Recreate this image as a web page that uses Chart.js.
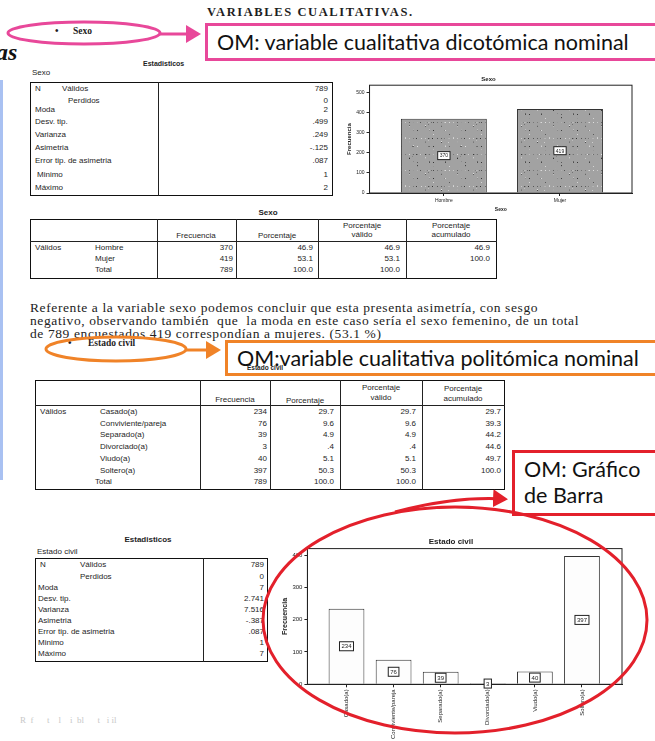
<!DOCTYPE html>
<html>
<head>
<meta charset="utf-8">
<script src="https://cdn.jsdelivr.net/npm/chart.js@4.4.0/dist/chart.umd.min.js"></script>
<style>
  body { margin:0; width:655px; height:741px; overflow:hidden; background:#fff; position:relative;
         font-family:"Liberation Sans", Arial, sans-serif; color:#1e1e1e; }
  .a { position:absolute; white-space:pre; line-height:1; }
  .tab { position:absolute; border:1.6px solid #111; box-sizing:border-box; }
  .vl { position:absolute; width:0; border-left:1.4px solid #222; }
  .hl { position:absolute; height:0; border-top:1.2px solid #222; }
  .om { position:absolute; box-sizing:border-box; font-family:Lato, "Open Sans", sans-serif; font-size:21.5px; color:#111; padding-left:9px; line-height:1.22; }
  .box { position:absolute; }
  svg { position:absolute; left:0; top:0; }
</style>
</head>
<body>
<div class="box" style="left:345px;top:74px;width:300px;height:140px"><canvas id="sexoChart" width="300" height="140"></canvas></div>
<div class="box" style="left:280px;top:537px;width:350px;height:204px"><canvas id="estadoChart" width="350" height="204"></canvas></div>
<script>
// datos - sexo
const sexoCategorias = ['Hombre', 'Mujer'];
const sexoFrecuencia = [370, 419];
const sexoPorcentaje = ['46.9', '53.1', '100.0'];
const sexoValido = ['46.9', '53.1', '100.0'];
const sexoAcumulado = ['46.9', '100.0', ''];
const sexoStatNombres = ['Válidos', 'Perdidos', 'Moda', 'Desv. tip.', 'Varianza', 'Asimetria', 'Error tip. de asimetria', 'Minimo', 'Máximo'];
const sexoStatValores = ['789', '0', '2', '.499', '.249', '-.125', '.087', '1', '2'];
const sexoTicks = [0, 100, 200, 300, 400, 500];

// datos - estado civil
const estadoCategorias = ['Casado(a)', 'Conviviente/pareja', 'Separado(a)', 'Divorciado(a)', 'Viudo(a)', 'Soltero(a)'];
const estadoFrecuencia = [234, 76, 39, 3, 40, 397];
const estadoPorcentaje = ['29.7', '9.6', '4.9', '.4', '5.1', '50.3', '100.0'];
const estadoValido = ['29.7', '9.6', '4.9', '.4', '5.1', '50.3', '100.0'];
const estadoAcumulado = ['29.7', '39.3', '44.2', '44.6', '49.7', '100.0', ''];
const estadoStatNombres = ['Válidos', 'Perdidos', 'Moda', 'Desv. tip.', 'Varianza', 'Asimetria', 'Error tip. de asimetria', 'Minimo', 'Máximo'];
const estadoStatValores = ['789', '0', '7', '2.741', '7.516', '-.387', '.087', '1', '7'];
const estadoTicks = [0, 100, 200, 300, 400];

// ---- helpers para texto de la pagina
function put(x, y, txt, css) {
  const d = document.createElement('div');
  d.className = 'a';
  d.style.left = x + 'px';
  d.style.top = y + 'px';
  d.textContent = txt;
  Object.assign(d.style, css || {});
  document.body.appendChild(d);
  return d;
}
function putR(xr, y, txt, css) {
  const d = put(0, y, txt, css);
  d.style.left = '';
  d.style.right = (655 - xr) + 'px';
  return d;
}
function putC(xc, y, txt, css) {
  const d = put(xc, y, txt, css);
  d.style.transform = 'translateX(-50%)';
  d.style.textAlign = 'center';
  return d;
}
function el(cls, x, y, w, h) {
  const d = document.createElement('div');
  d.className = cls;
  d.style.left = x + 'px'; d.style.top = y + 'px';
  if (w != null) d.style.width = w + 'px';
  if (h != null) d.style.height = h + 'px';
  document.body.appendChild(d);
  return d;
}

const serif = { fontFamily: '"Liberation Serif", "Times New Roman", serif' };
const small = { fontSize: '8px' };

// cabecera
put(207, 6, 'VARIABLES CUALITATIVAS.', Object.assign({ fontSize: '12.5px', fontWeight: 'bold', letterSpacing: '1.6px' }, serif));
put(-4, 40, 'as', Object.assign({ fontSize: '24px', fontWeight: 'bold', fontStyle: 'italic', color: '#111' }, serif));
put(55, 26, '•', { fontSize: '10px' });
put(73, 27, 'Sexo', Object.assign({ fontSize: '9.5px', fontWeight: 'bold' }, serif));
el('', 0, 80, 3, 400).style.cssText += 'position:absolute;background:#a9c1f2;';

// estadisticos sexo
put(143, 60, 'Estadisticos', { fontSize: '7px', fontWeight: 'bold' });
put(32, 69, 'Sexo', small);
el('tab', 30, 82, 303, 114);
el('vl', 158, 82, null, 114);
const sexoStatY = [85, 97, 106, 118, 131, 144, 157, 171, 184];
sexoStatNombres.forEach((n, i) => {
  const x = i === 0 ? 62 : i === 1 ? 68 : (i === 7 ? 37 : 35);
  put(x, sexoStatY[i], n, small);
  putR(328, sexoStatY[i], sexoStatValores[i], small);
});
put(35, sexoStatY[0], 'N', small);

// tabla de frecuencias sexo
putC(268, 209, 'Sexo', { fontSize: '8px', fontWeight: 'bold' });
el('tab', 30, 219, 467, 60);
[157, 236, 318, 406].forEach(x => el('vl', x, 219, null, 60));
el('hl', 30, 241, 467);
putC(196, 232, 'Frecuencia', small);
putC(277, 232, 'Porcentaje', small);
putC(362, 222, 'Porcentaje', small); putC(362, 231, 'válido', small);
putC(451, 222, 'Porcentaje', small); putC(451, 231, 'acumulado', small);
put(35, 244, 'Válidos', small);
const sexoFilas = sexoCategorias.concat(['Total']);
const sexoTotal = sexoFrecuencia.concat([sexoFrecuencia[0] + sexoFrecuencia[1]]);
[244, 255, 266].forEach((y, i) => {
  put(95, y, sexoFilas[i], small);
  putR(233, y, String(sexoTotal[i]), small);
  putR(313, y, sexoPorcentaje[i], small);
  putR(400, y, sexoValido[i], small);
  putR(490, y, sexoAcumulado[i], small);
});

// parrafo
const pf = Object.assign({ fontSize: '13.5px', letterSpacing: '0.6px', color: '#222' }, serif);
put(30, 301, 'Referente a la variable sexo podemos concluir que esta presenta asimetría, con sesgo', pf);
put(30, 314, 'negativo, observando también  que  la moda en este caso sería el sexo femenino, de un total', pf);
put(30, 327, 'de 789 encuestados 419 correspondían a mujeres. (53.1 %)', pf);

// estado civil
put(68, 338, '•', { fontSize: '10px' });
put(88, 339, 'Estado civil', Object.assign({ fontSize: '9.5px', fontWeight: 'bold' }, serif));

el('tab', 35, 380, 470, 110);
[200, 270, 340, 422].forEach(x => el('vl', x, 380, null, 110));
el('hl', 35, 405, 470);
putC(235, 396, 'Frecuencia', small);
putC(305, 397, 'Porcentaje', small);
putC(381, 384, 'Porcentaje', small); putC(381, 394, 'válido', small);
putC(463, 385, 'Porcentaje', small); putC(463, 395, 'acumulado', small);
put(40, 408, 'Válidos', small);
const estadoFilas = estadoCategorias.concat(['Total']);
const estadoTotal = estadoFrecuencia.concat([estadoFrecuencia.reduce((a, b) => a + b, 0)]);
estadoFilas.forEach((n, i) => {
  const y = 408 + i * 11.7;
  put(i === 6 ? 95 : 100, y, n, small);
  putR(267, y, String(estadoTotal[i]), small);
  putR(334, y, estadoPorcentaje[i], small);
  putR(416, y, estadoValido[i], small);
  putR(501, y, estadoAcumulado[i], small);
});

// estadisticos estado civil
putC(148, 536, 'Estadisticos', { fontSize: '8px', fontWeight: 'bold' });
put(37, 548, 'Estado civil', small);
el('tab', 35, 558, 233, 104);
el('vl', 203, 558, null, 104);
const estadoStatY = [561, 573, 584, 595, 606, 617, 628, 639, 650];
estadoStatNombres.forEach((n, i) => {
  const x = i === 0 ? 80 : i === 1 ? 80 : 38;
  put(x, estadoStatY[i], n, small);
  putR(264, estadoStatY[i], estadoStatValores[i], small);
});
put(40, estadoStatY[0], 'N', small);

put(20, 716, 'R  f      t    l    i  bl      t   i il', Object.assign({ fontSize: '9px', color: '#c8c8c8' }, serif));

// ---- textura de las barras de sexo (patron fijo)
function speckle() {
  const c = document.createElement('canvas');
  c.width = 48; c.height = 48;
  const g = c.getContext('2d');
  g.fillStyle = '#a2a2a2';
  g.fillRect(0, 0, 48, 48);
  let s = 7;
  for (let i = 0; i < 1800; i++) {
    s = (s * 1103515245 + 12345) & 0x7fffffff;
    const px = (s >> 4) % 48;
    s = (s * 1103515245 + 12345) & 0x7fffffff;
    const py = (s >> 4) % 48;
    s = (s * 1103515245 + 12345) & 0x7fffffff;
    const sh = 50 + ((s >> 4) % 180);
    g.fillStyle = 'rgb(' + sh + ',' + sh + ',' + sh + ')';
    g.fillRect(px, py, 1, 1);
  }
  return g.createPattern(c, 'repeat');
}

// marco del area y etiquetas con recuadro
const marco = {
  id: 'marco',
  afterDatasetsDraw(chart, args, opts) {
    const { ctx, chartArea: a } = chart;
    ctx.save();
    ctx.strokeStyle = '#222';
    ctx.lineWidth = 1;
    ctx.strokeRect(a.left, a.top, a.right - a.left, a.bottom - a.top);
    ctx.font = opts.size + 'px "Liberation Sans", Arial, sans-serif';
    ctx.textAlign = 'center';
    ctx.textBaseline = 'middle';
    chart.getDatasetMeta(0).data.forEach((bar, i) => {
      const v = chart.data.datasets[0].data[i].y;
      const cy = (bar.y + bar.base) / 2;
      const t = String(v);
      const w = ctx.measureText(t).width + 4;
      const h = opts.size + 3;
      ctx.fillStyle = '#fff';
      ctx.fillRect(bar.x - w / 2, cy - h / 2, w, h);
      ctx.strokeRect(bar.x - w / 2, cy - h / 2, w, h);
      ctx.fillStyle = '#222';
      ctx.fillText(t, bar.x, cy + 0.5);
    });
    ctx.restore();
  }
};

function ejeX(categorias, min, max, fontSize, rot, titulo) {
  return {
    type: 'linear', min: min, max: max, offset: false,
    afterBuildTicks: s => { s.ticks = categorias.map((c, i) => ({ value: i })); },
    ticks: { autoSkip: false, maxRotation: rot, minRotation: rot, color: '#222', padding: 2,
             font: { size: fontSize, family: '"Liberation Sans", Arial' },
             callback: v => categorias[v] },
    grid: { drawOnChartArea: false, tickLength: 3, color: '#222', offset: false },
    border: { color: '#222' },
    title: { display: !!titulo, text: titulo, color: '#222', padding: 1,
             font: { size: fontSize, weight: 'bold', family: '"Liberation Sans", Arial' } }
  };
}
function ejeY(max, ticks, fontSize) {
  return {
    min: 0, max: max,
    afterBuildTicks: s => { s.ticks = ticks.map(v => ({ value: v })); },
    ticks: { color: '#222', padding: 2, font: { size: fontSize, family: '"Liberation Sans", Arial' } },
    grid: { drawOnChartArea: false, tickLength: 3, color: '#222' },
    border: { color: '#222' },
    title: { display: true, text: 'Frecuencia', color: '#222', padding: 1,
             font: { size: fontSize + 1, weight: 'bold', family: '"Liberation Sans", Arial' } }
  };
}

new Chart(document.getElementById('sexoChart'), {
  type: 'bar',
  data: {
    datasets: [{
      data: sexoFrecuencia.map((v, i) => ({ x: i, y: v })),
      backgroundColor: speckle(),
      borderColor: '#333',
      borderWidth: 1,
      barPercentage: 0.74,
      categoryPercentage: 1
    }]
  },
  options: {
    responsive: false,
    animation: false,
    layout: { padding: { right: 13, top: 0 } },
    plugins: {
      legend: { display: false },
      tooltip: { enabled: false },
      title: { display: true, text: 'Sexo', color: '#222', padding: { top: 2, bottom: 2 },
               font: { size: 6, weight: 'bold', family: '"Liberation Sans", Arial' } },
      marco: { size: 5 }
    },
    scales: {
      x: ejeX(sexoCategorias, -0.64, 1.62, 5, 0, 'Sexo'),
      y: ejeY(537, sexoTicks, 5)
    }
  },
  plugins: [marco]
});

new Chart(document.getElementById('estadoChart'), {
  type: 'bar',
  data: {
    datasets: [{
      data: estadoFrecuencia.map((v, i) => ({ x: i, y: v })),
      backgroundColor: '#fdfdfd',
      borderColor: '#333',
      borderWidth: 1,
      barPercentage: 0.76,
      categoryPercentage: 1
    }]
  },
  options: {
    responsive: false,
    animation: false,
    layout: { padding: { right: 8, top: 0 } },
    plugins: {
      legend: { display: false },
      tooltip: { enabled: false },
      title: { display: true, text: 'Estado civil', color: '#222', padding: { top: 0, bottom: 2 },
               font: { size: 8, weight: 'bold', family: '"Liberation Sans", Arial' } },
      marco: { size: 6 }
    },
    scales: {
      x: ejeX(estadoCategorias, -0.83, 5.85, 6, 90, ''),
      y: ejeY(420, estadoTicks, 6)
    }
  },
  plugins: [marco]
});

// ---- anotaciones encima
function omBox(x, y, w, h, color, html) {
  const d = el('om', x, y, w, h);
  d.style.border = '3px solid ' + color;
  d.innerHTML = html;
  return d;
}
const mag = omBox(205, 23, 460, 38, '#e8489a', 'OM: variable cualitativa dicotómica nominal');
mag.style.background = '#fff'; mag.style.paddingTop = '3px';
const ora = omBox(225, 340, 440, 36, '#f08328', 'OM:variable cualitativa politómica nominal');
ora.style.paddingTop = '2px';
put(247, 365, 'Estado civil', { fontSize: '6.5px', fontWeight: 'bold' });
const roj = omBox(512, 450, 150, 66, '#e3202b', 'OM: Gráfico<br>de Barra');
roj.style.background = '#fff'; roj.style.paddingTop = '3px';

const ns = 'http://www.w3.org/2000/svg';
const svg = document.createElementNS(ns, 'svg');
svg.setAttribute('width', 655); svg.setAttribute('height', 741);
svg.innerHTML = `
<defs>
 <marker id="mm" markerWidth="6" markerHeight="6" refX="4" refY="3" orient="auto" markerUnits="strokeWidth"><path d="M0,0 L5,3 L0,6 z" fill="#e8489a"/></marker>
 <marker id="mo" markerWidth="6" markerHeight="6" refX="4" refY="3" orient="auto" markerUnits="strokeWidth"><path d="M0,0 L5,3 L0,6 z" fill="#f08328"/></marker>
 <marker id="mr" markerWidth="6" markerHeight="6" refX="4" refY="3" orient="auto" markerUnits="strokeWidth"><path d="M0,0 L5,3 L0,6 z" fill="#e3202b"/></marker>
</defs>
<ellipse cx="84" cy="33" rx="76" ry="11" fill="none" stroke="#e8489a" stroke-width="3"/>
<line x1="160" y1="34" x2="198" y2="34" stroke="#e8489a" stroke-width="3" marker-end="url(#mm)"/>
<ellipse cx="116" cy="349" rx="70" ry="12" fill="none" stroke="#f08328" stroke-width="3"/>
<line x1="186" y1="350" x2="218" y2="350" stroke="#f08328" stroke-width="3" marker-end="url(#mo)"/>
<ellipse cx="455" cy="620" rx="192" ry="113" fill="none" stroke="#e3202b" stroke-width="3"/>
<path d="M395 512 Q455 496 505 499" fill="none" stroke="#e3202b" stroke-width="3" marker-end="url(#mr)"/>
`;
document.body.appendChild(svg);
</script>
</body>
</html>
